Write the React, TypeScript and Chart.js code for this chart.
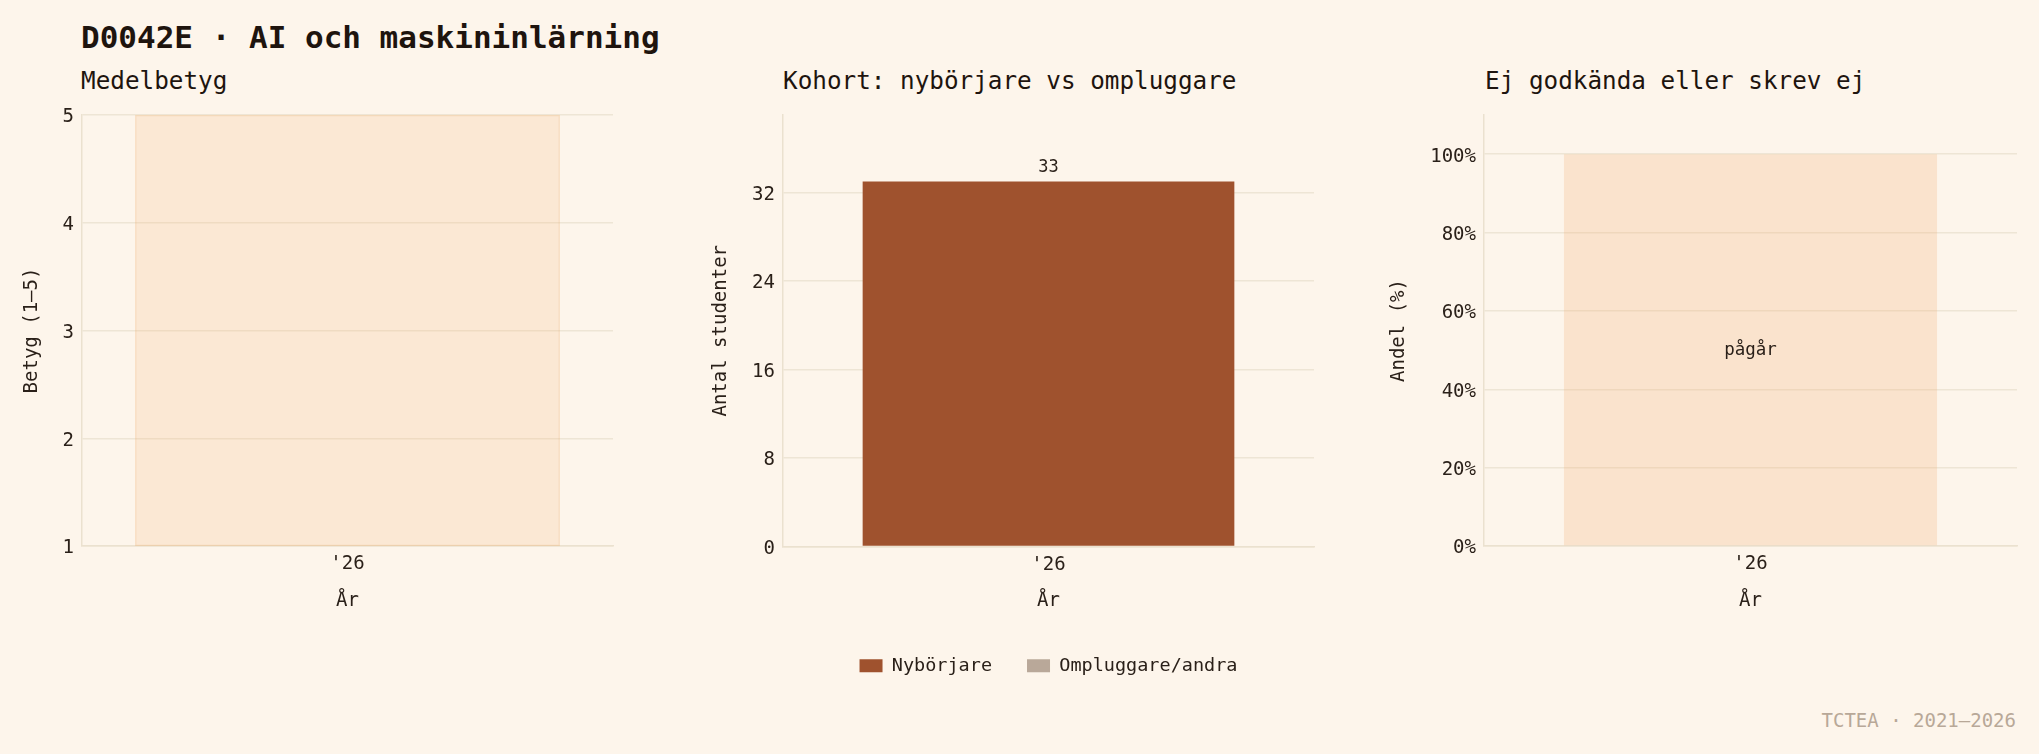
import React, { useEffect, useRef } from "react";
import { Chart, registerables } from "chart.js";

Chart.register(...registerables);

// ---- data ----
const years = ["'26"];
const gradeBandLow = [1];
const gradeBandHigh = [5];
const gradeTicks = [1, 2, 3, 4, 5];
const newcomers = [33];
const retakers = [0];
const cohortTicks = [0, 8, 16, 24, 32];
const failShareBand = [100];
const failStatus = ["pågår"];
const shareTicks = [0, 20, 40, 60, 80, 100];

const mainTitle = "D0042E · AI och maskininlärning";
const panelTitles = ["Medelbetyg", "Kohort: nybörjare vs ompluggare", "Ej godkända eller skrev ej"];
const footer = "TCTEA · 2021–2026";

// ---- style ----
const FONT = "'DejaVu Sans Mono', monospace";
const BG = "#fdf5eb";
const INK = "#2a2019";
const GRID = "#eee5d5";
const SPINE = "#ebe1cf";

Chart.defaults.font.family = FONT;

const labelPlugin = {
  id: "barText",
  afterDatasetsDraw(chart: any, _a: any, opts: any) {
    if (!opts || !opts.mode) return;
    const ctx = chart.ctx;
    const idx = opts.datasetIndex ?? 0;
    const meta = chart.getDatasetMeta(idx);
    ctx.save();
    ctx.font = `${opts.size || 17}px ${FONT}`;
    ctx.fillStyle = INK;
    ctx.textAlign = "center";
    ctx.textBaseline = "middle";
    meta.data.forEach((el: any, i: number) => {
      const p = el.getProps(["x", "y", "base"], true);
      if (opts.mode === "top") {
        ctx.fillText(String(chart.data.datasets[idx].data[i]), p.x, p.y - 13.5);
      } else {
        ctx.fillText(opts.texts[i], p.x, (p.y + p.base) / 2 + 1.2);
      }
    });
    ctx.restore();
  },
};

function yAxis(o: {
  min: number;
  max: number;
  ticks: number[];
  width: number;
  title: string;
  titlePad: number;
  fmt?: (v: any) => string;
  stacked?: boolean;
}) {
  return {
    min: o.min,
    max: o.max,
    stacked: o.stacked,
    afterFit: (s: any) => {
      s.width = o.width;
    },
    afterBuildTicks: (s: any) => {
      s.ticks = o.ticks.map((v) => ({ value: v }));
    },
    grid: { color: GRID, lineWidth: 1.5, drawTicks: false },
    border: { display: true, color: SPINE, width: 1.5 },
    ticks: {
      padding: 8,
      labelOffset: 2.5,
      color: INK,
      font: { size: 19, family: FONT },
      callback: o.fmt || ((v: any) => String(v)),
    },
    title: {
      display: true,
      text: o.title,
      color: INK,
      font: { size: 19, family: FONT },
      padding: { top: o.titlePad, bottom: 0 },
    },
  };
}

function xAxis(height: number, titleBottom: number, stacked?: boolean) {
  return {
    stacked,
    afterFit: (s: any) => {
      s.height = height;
    },
    grid: { display: false, drawTicks: false },
    border: { display: true, color: SPINE, width: 1.5 },
    ticks: { padding: 7, color: INK, font: { size: 19, family: FONT } },
    title: {
      display: true,
      text: "År",
      color: INK,
      font: { size: 19, family: FONT },
      padding: { top: 0, bottom: titleBottom },
    },
  };
}

function baseOptions(padRight: number, extra: any = {}) {
  return {
    responsive: false,
    maintainAspectRatio: false,
    animation: false,
    devicePixelRatio: 1,
    layout: { padding: { top: 20, right: padRight, left: 0, bottom: 0 } },
    plugins: {
      legend: { display: false },
      tooltip: { enabled: false },
      ...extra,
    },
  };
}

function useChart(makeConfig: () => any) {
  const ref = useRef<HTMLCanvasElement | null>(null);
  useEffect(() => {
    if (!ref.current) return;
    const chart = new Chart(ref.current, makeConfig());
    return () => chart.destroy();
  }, []);
  return ref;
}

export default function App() {
  const ref1 = useChart(() => ({
    type: "bar",
    data: {
      labels: years,
      datasets: [
        {
          label: "Medelbetyg",
          data: gradeBandLow.map((lo, i) => [lo, gradeBandHigh[i]]),
          backgroundColor: "rgba(245, 180, 120, 0.2)",
          borderColor: "rgba(240, 170, 100, 0.3)",
          borderWidth: 1.5,
          borderSkipped: false,
          barPercentage: 0.8,
          categoryPercentage: 1,
        },
      ],
    },
    options: {
      ...baseOptions(27),
      scales: {
        x: xAxis(66, 0),
        y: yAxis({ min: 1, max: 5, ticks: gradeTicks, width: 82, title: "Betyg (1–5)", titlePad: 21 }),
      },
    },
  }));

  const ref2 = useChart(() => ({
    type: "bar",
    data: {
      labels: years,
      datasets: [
        {
          label: "Nybörjare",
          data: newcomers,
          backgroundColor: "#9f522e",
          borderWidth: 0,
          barPercentage: 0.7,
          categoryPercentage: 1,
        },
        {
          label: "Ompluggare/andra",
          data: retakers,
          backgroundColor: "#b9a899",
          borderWidth: 0,
          barPercentage: 0.7,
          categoryPercentage: 1,
        },
      ],
    },
    plugins: [labelPlugin],
    options: {
      ...baseOptions(60, {
        legend: {
          display: true,
          position: "bottom",
          fullSize: false,
          labels: {
            boxWidth: 23,
            boxHeight: 13,
            padding: 35,
            color: INK,
            font: { size: 18.5, family: FONT },
          },
        },
        barText: { mode: "top", datasetIndex: 0, size: 17 },
      }),
      scales: {
        x: xAxis(75, 9.5, true),
        y: yAxis({
          min: 0,
          max: 39,
          ticks: cohortTicks,
          width: 83,
          title: "Antal studenter",
          titlePad: 9.3,
          stacked: true,
        }),
      },
    },
  }));

  const ref3 = useChart(() => ({
    type: "bar",
    data: {
      labels: years,
      datasets: [
        {
          label: "Ej godkända eller skrev ej",
          data: failShareBand,
          backgroundColor: "rgba(245, 175, 115, 0.25)",
          borderWidth: 0,
          barPercentage: 0.7,
          categoryPercentage: 1,
        },
      ],
    },
    plugins: [labelPlugin],
    options: {
      ...baseOptions(22, {
        barText: { mode: "mid", datasetIndex: 0, texts: failStatus, size: 17.5 },
      }),
      scales: {
        x: xAxis(66, 0),
        y: yAxis({
          min: 0,
          max: 110,
          ticks: shareTicks,
          width: 104,
          title: "Andel (%)",
          titlePad: 7.5,
          fmt: (v: any) => `${v}%`,
        }),
      },
    },
  }));

  const textBase: React.CSSProperties = {
    position: "absolute",
    fontFamily: FONT,
    lineHeight: 1,
    whiteSpace: "pre",
    color: "#1e140e",
  };

  return (
    <div
      style={{
        position: "fixed",
        left: 0,
        top: 0,
        width: 2039,
        height: 754,
        background: BG,
        overflow: "hidden",
      }}
    >
      <div style={{ ...textBase, left: 81, top: 21.5, fontSize: 31, fontWeight: 700 }}>{mainTitle}</div>
      <div style={{ ...textBase, left: 81, top: 68.7, fontSize: 24.3 }}>{panelTitles[0]}</div>
      <div style={{ ...textBase, left: 783, top: 68.7, fontSize: 24.3 }}>{panelTitles[1]}</div>
      <div style={{ ...textBase, left: 1485, top: 68.7, fontSize: 24.3 }}>{panelTitles[2]}</div>
      <canvas
        ref={ref1}
        width={640}
        height={517}
        style={{ position: "absolute", left: 0, top: 95, width: 640, height: 517 }}
      />
      <canvas
        ref={ref2}
        width={674}
        height={590}
        style={{ position: "absolute", left: 700, top: 95, width: 674, height: 590 }}
      />
      <canvas
        ref={ref3}
        width={659}
        height={517}
        style={{ position: "absolute", left: 1380, top: 95, width: 659, height: 517 }}
      />
      <div style={{ ...textBase, right: 23, top: 711.3, fontSize: 19, color: "#b8a898" }}>{footer}</div>
    </div>
  );
}
